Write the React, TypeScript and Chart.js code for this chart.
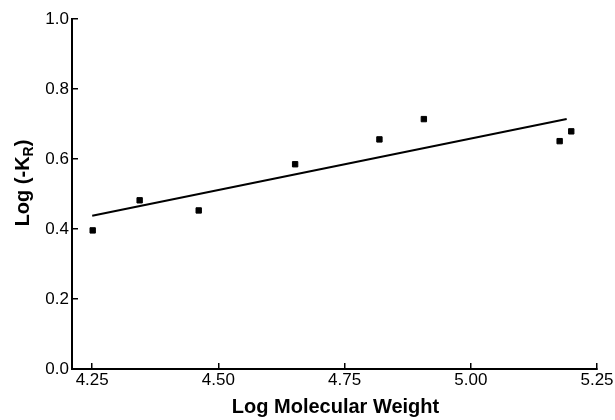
import React, { useEffect, useRef } from "react";
import { Chart, registerables } from "chart.js";

Chart.register(...registerables);

// Data
const logMolecularWeight = [4.251, 4.344, 4.461, 4.652, 4.819, 4.907, 5.176, 5.199];
const logNegKr = [0.396, 0.482, 0.453, 0.585, 0.656, 0.714, 0.651, 0.679];
const fitLineX = [4.25, 5.19];
const fitLineY = [0.438, 0.714];
const xTickValues = [4.25, 4.5, 4.75, 5.0, 5.25];
const yTickValues = [0, 0.2, 0.4, 0.6, 0.8, 1.0];

const FONT = "'Liberation Sans', Arial, Helvetica, sans-serif";

const titlesPlugin = {
  id: "customTitles",
  afterDraw(chart: any) {
    const { ctx, chartArea } = chart;
    ctx.save();
    ctx.fillStyle = "#000";
    // X title
    ctx.font = `bold 20px ${FONT}`;
    ctx.textAlign = "center";
    ctx.textBaseline = "middle";
    ctx.fillText("Log Molecular Weight", (chartArea.left + chartArea.right) / 2 + 1, 407);
    // Y title with subscript
    ctx.translate(22, 183);
    ctx.rotate(-Math.PI / 2);
    const main = "Log (-K";
    const sub = "R";
    const close = ")";
    ctx.font = `bold 20px ${FONT}`;
    const wMain = ctx.measureText(main).width;
    const wClose = ctx.measureText(close).width;
    ctx.font = `bold 14px ${FONT}`;
    const wSub = ctx.measureText(sub).width;
    const total = wMain + wSub + wClose;
    let x = -total / 2;
    ctx.textAlign = "left";
    ctx.textBaseline = "alphabetic";
    ctx.font = `bold 20px ${FONT}`;
    ctx.fillText(main, x, 7);
    x += wMain;
    ctx.font = `bold 14px ${FONT}`;
    ctx.fillText(sub, x, 11);
    x += wSub;
    ctx.font = `bold 20px ${FONT}`;
    ctx.fillText(close, x, 7);
    ctx.restore();
  },
};

export default function App() {
  const canvasRef = useRef<HTMLCanvasElement | null>(null);

  useEffect(() => {
    document.body.style.margin = "0";
    const canvas = canvasRef.current;
    if (!canvas) return;
    const chart = new Chart(canvas, {
      type: "scatter",
      data: {
        datasets: [
          {
            label: "Fit",
            data: fitLineX.map((x, i) => ({ x, y: fitLineY[i] })),
            showLine: true,
            borderColor: "#000",
            borderWidth: 2,
            pointRadius: 0,
            fill: false,
          },
          {
            label: "Data",
            data: logMolecularWeight.map((x, i) => ({ x, y: logNegKr[i] })),
            pointStyle: "rect",
            pointRadius: 3.8,
            pointBorderWidth: 1,
            backgroundColor: "#000",
            borderColor: "#000",
          },
        ],
      },
      options: {
        responsive: false,
        animation: false,
        devicePixelRatio: 1,
        layout: { padding: { left: 0, right: 18, top: 19, bottom: 0 } },
        plugins: {
          legend: { display: false },
          tooltip: { enabled: false },
        },
        scales: {
          x: {
            type: "linear",
            min: 4.21,
            max: 5.25,
            afterBuildTicks: (scale: any) => {
              scale.ticks = xTickValues.map((v) => ({ value: v }));
            },
            afterFit: (scale: any) => {
              scale.height = 51;
              scale.paddingLeft = 0;
              scale.paddingRight = 0;
            },
            ticks: {
              color: "#000",
              font: { family: FONT, size: 17 },
              padding: 7,
              maxRotation: 0,
              autoSkip: false,
              callback: (v: any) => Number(v).toFixed(2),
            },
            grid: {
              drawOnChartArea: false,
              drawTicks: true,
              tickLength: -6,
              color: "#000",
              lineWidth: 1.5,
            },
            border: { display: true, color: "#000", width: 2 },
            title: { display: false },
          },
          y: {
            type: "linear",
            min: 0,
            max: 1,
            afterBuildTicks: (scale: any) => {
              scale.ticks = yTickValues.map((v) => ({ value: v }));
            },
            afterFit: (scale: any) => {
              scale.width = 72;
              scale.paddingTop = 0;
              scale.paddingBottom = 0;
            },
            ticks: {
              color: "#000",
              font: { family: FONT, size: 17 },
              padding: 9,
              autoSkip: false,
              callback: (v: any) => Number(v).toFixed(1),
            },
            grid: {
              drawOnChartArea: false,
              drawTicks: true,
              tickLength: -6,
              color: "#000",
              lineWidth: 1.5,
            },
            border: { display: true, color: "#000", width: 2 },
            title: { display: false },
          },
        },
      },
      plugins: [titlesPlugin],
    });
    return () => chart.destroy();
  }, []);

  return (
    <div style={{ width: 615, height: 420, background: "#fff" }}>
      <canvas ref={canvasRef} width={615} height={420} style={{ display: "block" }} />
    </div>
  );
}
